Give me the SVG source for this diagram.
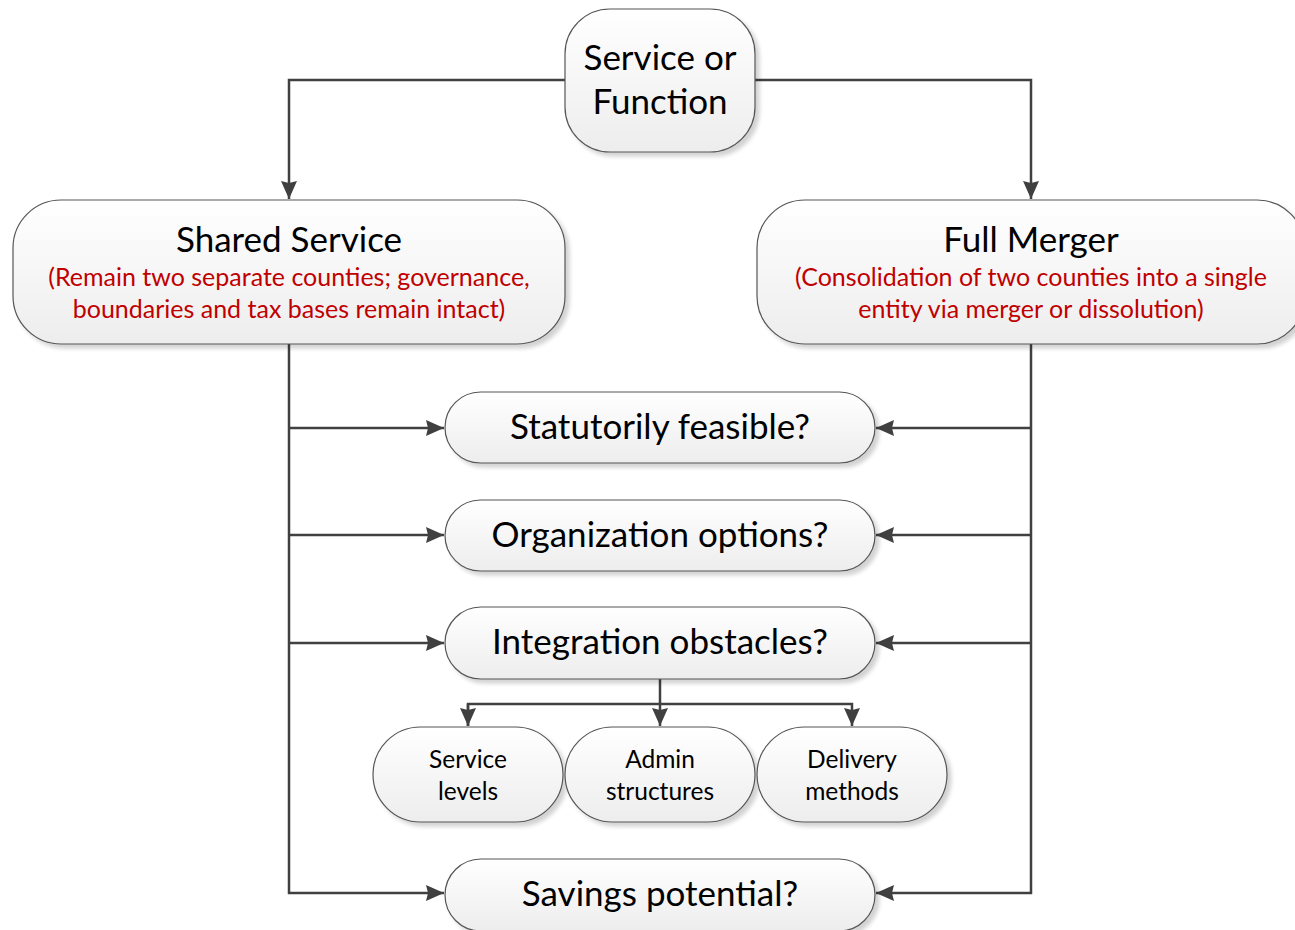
<svg xmlns="http://www.w3.org/2000/svg" width="1295" height="930" viewBox="0 0 1295 930">
<defs>
<linearGradient id="g" x1="0" y1="0" x2="0" y2="1">
<stop offset="0" stop-color="#ffffff"/>
<stop offset="1" stop-color="#ededed"/>
</linearGradient>
<filter id="sh" x="-10%" y="-10%" width="130%" height="140%">
<feGaussianBlur in="SourceAlpha" stdDeviation="2"/>
<feOffset dx="4" dy="4" result="b"/>
<feComponentTransfer><feFuncA type="linear" slope="0.18"/></feComponentTransfer>
<feMerge><feMergeNode/><feMergeNode in="SourceGraphic"/></feMerge>
</filter>
<marker id="ar" viewBox="0 0 18 16" refX="18" refY="8" markerWidth="18" markerHeight="16" markerUnits="userSpaceOnUse" orient="auto">
<path d="M0,0 L18,8 L0,16 L2,8 Z" fill="#404040"/>
</marker>
</defs>
<style>
.box{fill:url(#g);stroke:#555;stroke-width:1.2;filter:url(#sh)}
.t{font-family:Lato,"Open Sans",sans-serif;fill:#000;text-anchor:middle}
.big{font-size:35px}
.sm{font-size:24.5px}
.red{font-family:Lato,"Open Sans",sans-serif;fill:#c00000;text-anchor:middle;font-size:25px}
.c{fill:none;stroke:#404040;stroke-width:2.5}
</style>
<rect width="1295" height="930" fill="#fff"/>
<g id="connectors">
<path class="c" d="M565,80 H289 V199" marker-end="url(#ar)"/>
<path class="c" d="M755,80 H1031 V199" marker-end="url(#ar)"/>
<path class="c" d="M289,344 V893 H444" marker-end="url(#ar)"/>
<path class="c" d="M289,428 H444" marker-end="url(#ar)"/>
<path class="c" d="M289,535 H444" marker-end="url(#ar)"/>
<path class="c" d="M289,643 H444" marker-end="url(#ar)"/>
<path class="c" d="M1031,344 V893 H876" marker-end="url(#ar)"/>
<path class="c" d="M1031,428 H876" marker-end="url(#ar)"/>
<path class="c" d="M1031,535 H876" marker-end="url(#ar)"/>
<path class="c" d="M1031,643 H876" marker-end="url(#ar)"/>
<path class="c" d="M660,679 V726" marker-end="url(#ar)"/>
<path class="c" d="M468,726 V704 H852 V726" marker-end="url(#ar)"/>
<path class="c" d="M468,704 V726" marker-end="url(#ar)"/>
</g>
<g id="service-or-function">
<rect class="box" x="565" y="9" width="190" height="143" rx="45"/>
<text class="t big" x="660" y="70">Service or</text>
<text class="t big" x="660" y="114">Function</text>
</g>
<g id="shared-service">
<rect class="box" x="13" y="200" width="552" height="144" rx="48"/>
<text class="t big" x="289" y="252">Shared Service</text>
<text class="red" x="289" y="286">(Remain two separate counties; governance,</text>
<text class="red" x="289" y="318">boundaries and tax bases remain intact)</text>
</g>
<g id="full-merger">
<rect class="box" x="757" y="200" width="548" height="144" rx="48"/>
<text class="t big" x="1031" y="252">Full Merger</text>
<text class="red" x="1031" y="286">(Consolidation of two counties into a single</text>
<text class="red" x="1031" y="318">entity via merger or dissolution)</text>
</g>
<g id="statutorily-feasible">
<rect class="box" x="445" y="392" width="430" height="71" rx="35.5"/>
<text class="t big" x="660" y="439">Statutorily feasible?</text>
</g>
<g id="organization-options">
<rect class="box" x="445" y="500" width="430" height="71" rx="35.5"/>
<text class="t big" x="660" y="547">Organization options?</text>
</g>
<g id="integration-obstacles">
<rect class="box" x="445" y="607" width="430" height="72" rx="36"/>
<text class="t big" x="660" y="654">Integration obstacles?</text>
</g>
<g id="service-levels">
<rect class="box" x="373" y="727" width="190" height="95" rx="47.5"/>
<text class="t sm" x="468" y="768">Service</text>
<text class="t sm" x="468" y="800">levels</text>
</g>
<g id="admin-structures">
<rect class="box" x="565" y="727" width="190" height="95" rx="47.5"/>
<text class="t sm" x="660" y="768">Admin</text>
<text class="t sm" x="660" y="800">structures</text>
</g>
<g id="delivery-methods">
<rect class="box" x="757" y="727" width="190" height="95" rx="47.5"/>
<text class="t sm" x="852" y="768">Delivery</text>
<text class="t sm" x="852" y="800">methods</text>
</g>
<g id="savings-potential">
<rect class="box" x="445" y="859" width="430" height="72" rx="36"/>
<text class="t big" x="660" y="906">Savings potential?</text>
</g>
</svg>
